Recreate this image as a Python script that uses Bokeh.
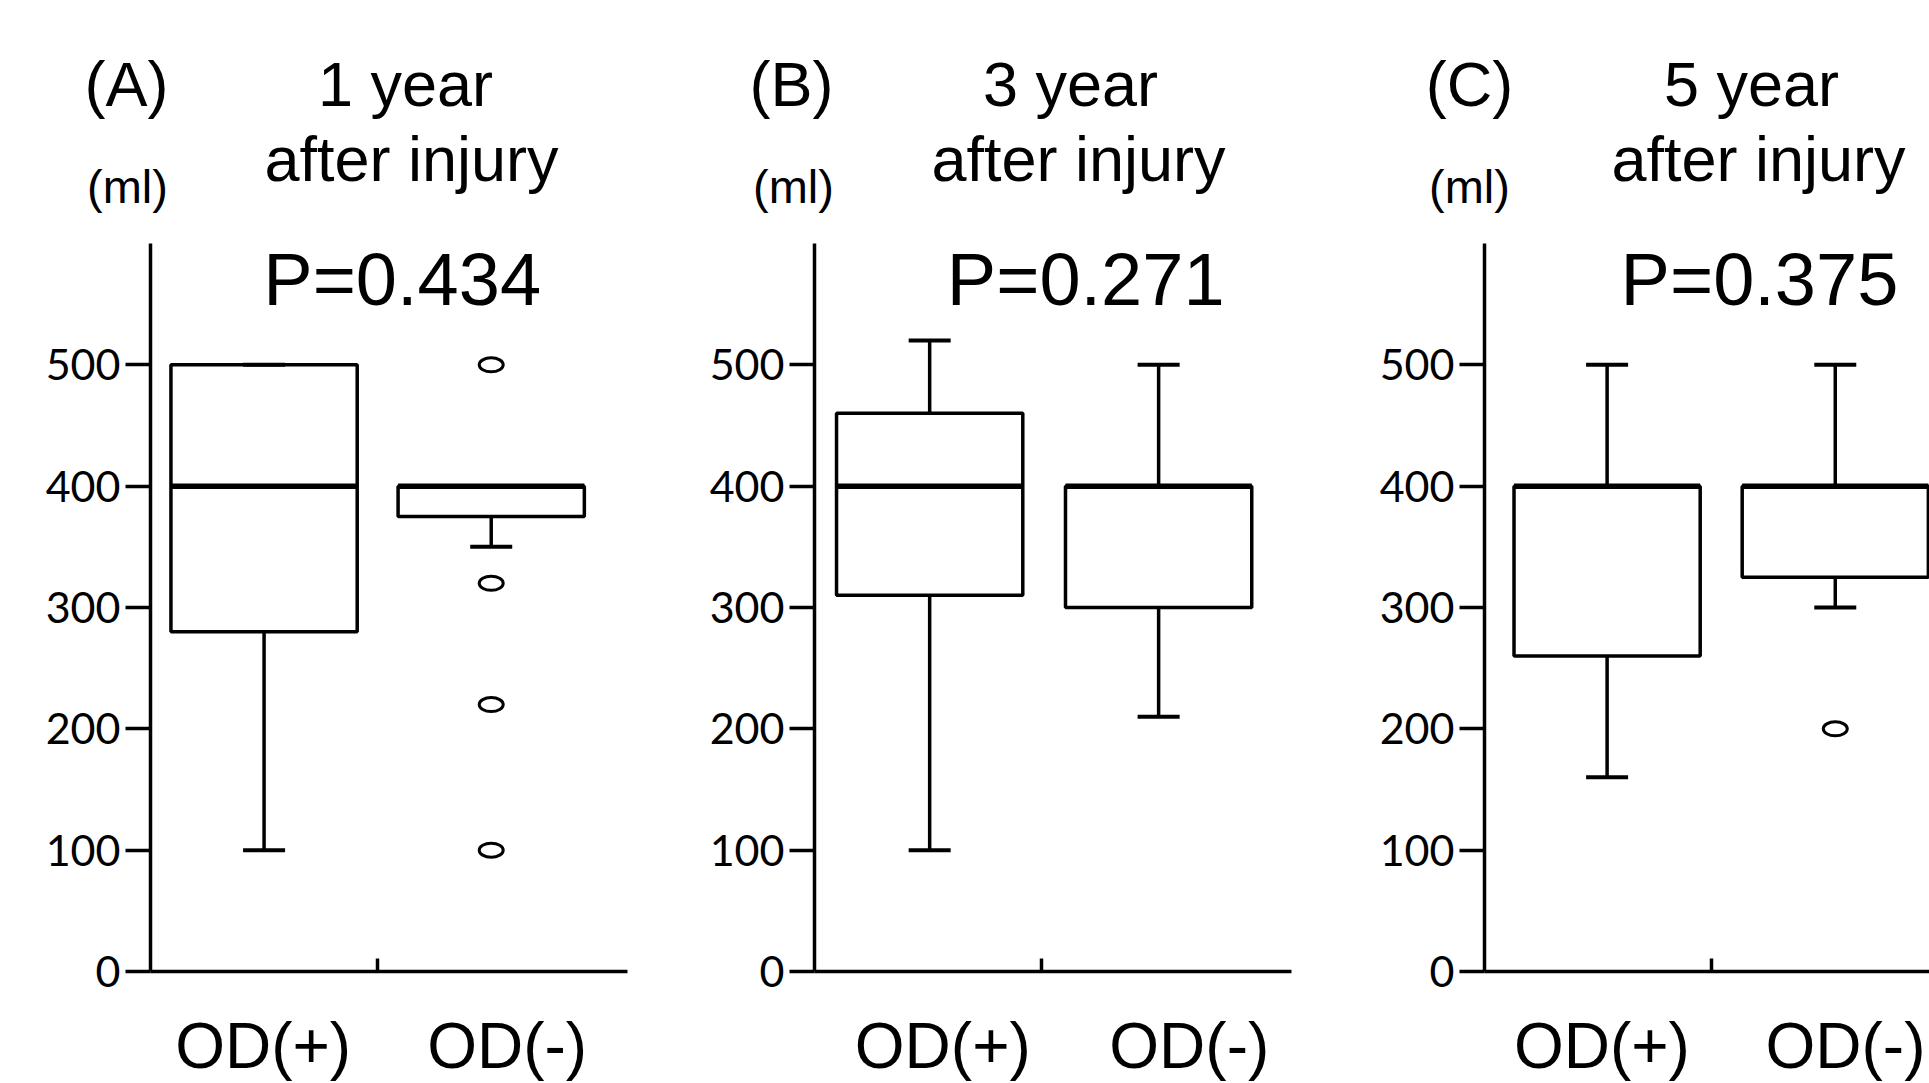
from bokeh.plotting import figure
from bokeh.layouts import row, column
from bokeh.models import LinearAxis, FixedTicker, Label, ColumnDataSource, Range1d
from bokeh.core.properties import value
from bokeh.embed import file_html
from bokeh.resources import INLINE

# ---------------- data ----------------
categories = ["OD(+)", "OD(-)"]
panel_tags = ["(A)", "(B)", "(C)"]
panel_years = ["1 year", "3 year", "5 year"]
panel_sub = ["after injury", "after injury", "after injury"]
p_values = ["P=0.434", "P=0.271", "P=0.375"]
unit_label = "(ml)"
y_ticks = [0, 100, 200, 300, 400, 500]
y_axis_max = 600

# per panel: [OD(+), OD(-)]
whisker_low = [[100, 350], [100, 210], [160, 300]]
q1 = [[280, 375], [310, 300], [260, 325]]
median = [[400, 400], [400, 400], [400, 400]]
q3 = [[500, 400], [460, 400], [400, 400]]
whisker_high = [[500, 400], [520, 500], [500, 500]]
outlier_group = [[1, 1, 1, 1], [], [1]]
outlier_value = [[500, 320, 220, 100], [], [200]]

# ---------------- layout ----------------
FONT = "Liberation Sans"
TICK_FONT = "Lato"
PAGE_W = 1929
px_per_unit_y = 1.2133
header_h = 222
extra = 243 - header_h              # frame extends above the axis top by this many px
frame_h = 728 + extra
y_top = y_axis_max + extra / px_per_unit_y
bot_b = 112
unit_px = 227
panel_specs = [
    dict(left_b=150, xmax=2.1, right_b=45, box_x=[0.5, 1.5], lab_x=[0.496, 1.57],
         tag_px=-24, yr_px=255, sub_px=261, ml_px=-23, p_dx=1.108),
    dict(left_b=142, xmax=2.1, right_b=52, box_x=[0.507, 1.515], lab_x=[0.565, 1.65],
         tag_px=-23, yr_px=256, sub_px=264, ml_px=-21, p_dx=1.194),
    dict(left_b=141, xmax=1.96, right_b=0, box_x=[0.54, 1.545], lab_x=[0.517, 1.59],
         tag_px=-15, yr_px=267, sub_px=274, ml_px=-15, p_dx=1.211),
]

# ---- header figure spanning all panels (pixel scale) ----
header = figure(
    width=PAGE_W, height=header_h,
    x_range=Range1d(0, PAGE_W), y_range=Range1d(0, header_h),
    x_axis_type=None, y_axis_type=None,
    output_backend="svg", toolbar_location=None,
    min_border=0, min_border_left=0, min_border_right=0,
    min_border_top=0, min_border_bottom=0,
    background_fill_color="white", border_fill_color="white",
)
header.outline_line_color = None
header.grid.visible = False

axis_x = []
start = 0
for spec in panel_specs:
    axis_x.append(start + spec["left_b"])
    start += spec["left_b"] + int(round(spec["xmax"] * unit_px)) + spec["right_b"]

big_x, big_y, big_t, sm_x, sm_y, sm_t = [], [], [], [], [], []
for k, spec in enumerate(panel_specs):
    ax = axis_x[k]
    big_x += [ax + spec["tag_px"], ax + spec["yr_px"], ax + spec["sub_px"]]
    big_y += [160 - extra, 160 - extra, 85 - extra]
    big_t += [panel_tags[k], panel_years[k], panel_sub[k]]
    sm_x.append(ax + spec["ml_px"])
    sm_y.append(57 - extra)
    sm_t.append(unit_label)
header.text(x="x", y="y", text="t", source=ColumnDataSource(dict(x=big_x, y=big_y, t=big_t)),
            text_font=value(FONT), text_font_size="63px", text_align="center",
            text_baseline="alphabetic", text_color="black")
header.text(x="x", y="y", text="t", source=ColumnDataSource(dict(x=sm_x, y=sm_y, t=sm_t)),
            text_font=value(FONT), text_font_size="47px", text_align="center",
            text_baseline="alphabetic", text_color="black")

half_box = 0.41
half_cap = 0.0925
panels = []
for k, spec in enumerate(panel_specs):
    left_b, right_b = spec["left_b"], spec["right_b"]
    frame_w = int(round(spec["xmax"] * unit_px))

    p = figure(
        frame_width=frame_w, frame_height=frame_h,
        x_range=(0, spec["xmax"]), y_range=(0, y_top),
        x_axis_type=None,
        output_backend="svg", toolbar_location=None,
        min_border_left=left_b, min_border_right=right_b,
        min_border_top=0, min_border_bottom=bot_b,
        background_fill_color="white", border_fill_color="white",
    )
    p.outline_line_color = None
    p.grid.visible = False

    ya = p.yaxis[0]
    ya.bounds = (0, y_axis_max)
    ya.ticker = FixedTicker(ticks=y_ticks)
    ya.axis_line_width = 3.5
    ya.axis_line_color = "black"
    ya.major_tick_line_width = 3.5
    ya.major_tick_line_color = "black"
    ya.major_tick_out = 25
    ya.major_tick_in = 0
    ya.minor_tick_line_color = None
    ya.major_label_text_font = TICK_FONT
    ya.major_label_text_font_size = "43px"
    ya.major_label_text_color = "black"
    ya.major_label_standoff = 5

    xa = LinearAxis(ticker=FixedTicker(ticks=[1.0]), major_label_overrides={1: ""})
    xa.axis_line_width = 3.5
    xa.axis_line_color = "black"
    xa.major_tick_line_width = 3.5
    xa.major_tick_in = 13
    xa.major_tick_out = 0
    xa.minor_tick_line_color = None
    xa.major_label_text_font_size = "2px"
    xa.major_label_standoff = 0
    p.add_layout(xa, "below")

    lab_x = spec["lab_x"]
    xl = LinearAxis(ticker=FixedTicker(ticks=lab_x),
                    major_label_overrides={x: c for x, c in zip(lab_x, categories)})
    xl.axis_line_color = None
    xl.major_tick_line_color = None
    xl.minor_tick_line_color = None
    xl.major_label_text_font = FONT
    xl.major_label_text_font_size = "64px"
    xl.major_label_text_color = "black"
    xl.major_label_standoff = 32
    p.add_layout(xl, "below")

    xpos = spec["box_x"]
    src = ColumnDataSource(dict(
        x=xpos,
        left=[x - half_box for x in xpos], right=[x + half_box for x in xpos],
        cl=[x - half_cap for x in xpos], cr=[x + half_cap for x in xpos],
        lo=whisker_low[k], q1=q1[k], med=median[k], q3=q3[k], hi=whisker_high[k],
    ))
    p.segment(x0="x", y0="q3", x1="x", y1="hi", source=src, line_color="black", line_width=3.5)
    p.segment(x0="x", y0="q1", x1="x", y1="lo", source=src, line_color="black", line_width=3.5)
    p.quad(left="left", right="right", bottom="q1", top="q3", source=src,
           fill_color="white", line_color="black", line_width=3.5)
    p.segment(x0="cl", y0="hi", x1="cr", y1="hi", source=src, line_color="black", line_width=4)
    p.segment(x0="cl", y0="lo", x1="cr", y1="lo", source=src, line_color="black", line_width=4)
    p.segment(x0="left", y0="med", x1="right", y1="med", source=src, line_color="black", line_width=5.5)
    if outlier_value[k]:
        osrc = ColumnDataSource(dict(x=[xpos[g] for g in outlier_group[k]], y=outlier_value[k]))
        p.ellipse(x="x", y="y", width=24, height=14, width_units="screen", height_units="screen",
                  source=osrc, fill_color="white", line_color="black", line_width=3)

    p.add_layout(Label(x=spec["p_dx"], y=570, text=p_values[k], text_font=FONT,
                       text_font_size="74px", text_align="center",
                       text_baseline="alphabetic", text_color="black"))
    panels.append(p)

layout = column(header, row(*panels, spacing=0), spacing=0)
open("out.html", "w").write(file_html(layout, INLINE))
